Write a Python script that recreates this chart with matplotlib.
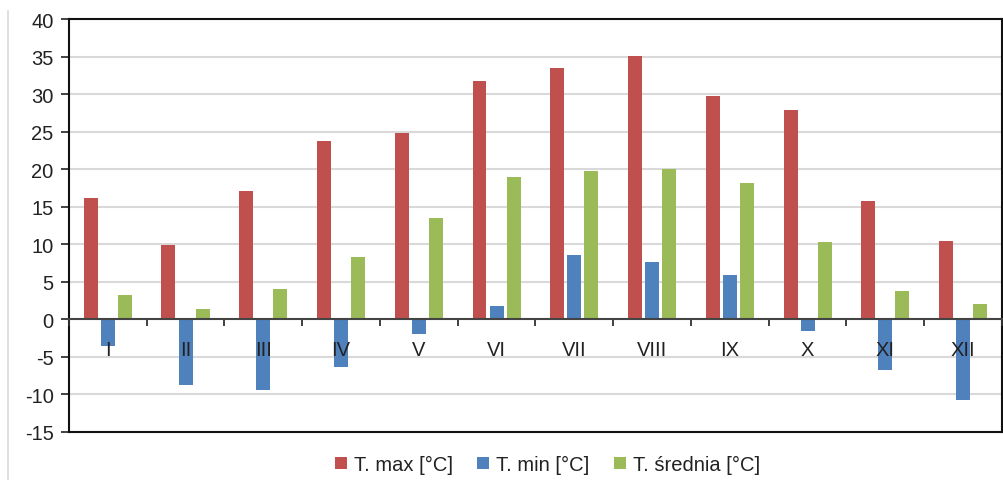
import numpy as np
import matplotlib
matplotlib.use("Agg")
from matplotlib import pyplot as plt
from matplotlib.lines import Line2D

months = ["I", "II", "III", "IV", "V", "VI", "VII", "VIII", "IX", "X", "XI", "XII"]
t_max = [16.2, 9.9, 17.1, 23.8, 24.8, 31.7, 33.5, 35.1, 29.7, 27.9, 15.7, 10.4]
t_min = [-3.5, -8.7, -9.4, -6.4, -1.9, 1.8, 8.6, 7.7, 5.9, -1.5, -6.7, -10.7]
t_mean = [3.2, 1.4, 4.0, 8.3, 13.5, 18.9, 19.8, 20.0, 18.2, 10.3, 3.8, 2.0]
labels = ["T. max [°C]", "T. min [°C]", "T. średnia [°C]"]
colors = ["#C0504D", "#4F81BD", "#9BBB59"]

plt.rcParams['font.family'] = ['Liberation Sans', 'DejaVu Sans']
plt.rcParams['axes.unicode_minus'] = False

fig = plt.figure(figsize=(10.04, 4.81), dpi=100)
ax = fig.add_axes([0.0687, 0.0998, 0.9293, 0.8586])

x = np.arange(len(months))
w = 0.18
for off, vals, lab, c in zip([-0.22, 0.0, 0.22], [t_max, t_min, t_mean], labels, colors):
    ax.bar(x + off, vals, width=w, color=c, label=lab, zorder=3)

ax.set_xlim(-0.5, len(months) - 0.5)
ax.set_ylim(-15, 40)
ax.set_yticks(np.arange(-15, 41, 5))
ax.yaxis.grid(True, color='#D9D9D9', linewidth=1.5, zorder=0)
ax.set_axisbelow(True)
ax.tick_params(axis='y', labelsize=14.5, length=6, width=1.2, colors='#222222', pad=5)
ax.set_xticks([])
for s in ax.spines.values():
    s.set_linewidth(1.5)
    s.set_color('#111111')

# category axis drawn at zero
lo, hi = ax.get_ylim()
sec = ax.secondary_xaxis((0 - lo) / (hi - lo))
sec.set_zorder(5)
sec.set_xticks(x)
sec.set_xticklabels(months)
sec.set_xticks(np.arange(-0.5, len(months), 1.0), minor=True)
sec.tick_params(axis='x', which='major', length=0, pad=15, labelsize=14.5, colors='#222222')
sec.tick_params(axis='x', which='minor', length=5, width=1.3, direction='out', colors='#333333')
sec.spines['bottom'].set_linewidth(1.5)
sec.spines['bottom'].set_color('#444444')

leg = ax.legend(loc='upper center', bbox_to_anchor=(0.513, -0.012), ncol=3, frameon=False,
                fontsize=14.5, handlelength=0.6, handleheight=0.6, handletextpad=0.35,
                columnspacing=1.2)
for t in leg.get_texts():
    t.set_color('#222222')

fig.add_artist(Line2D([0.008, 0.008], [0.0, 0.975], color='#D9D9D9', linewidth=1.2,
                      transform=fig.transFigure))

fig.savefig("out.png", dpi=100)
